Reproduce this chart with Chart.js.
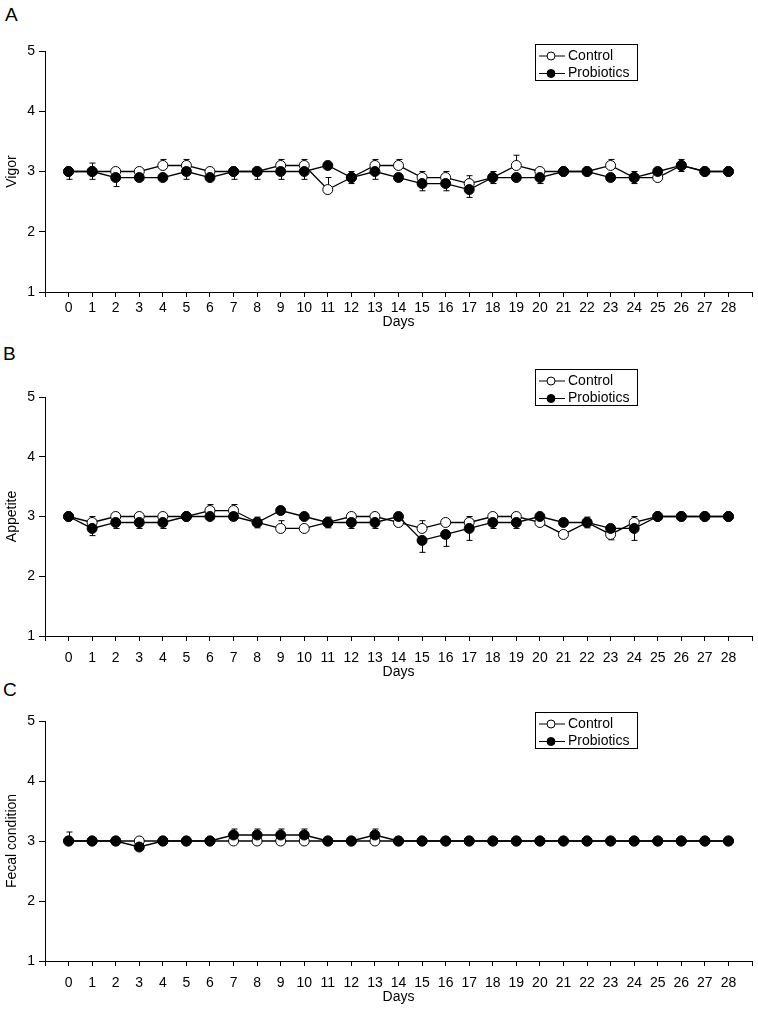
<!DOCTYPE html>
<html><head><meta charset="utf-8">
<script src="https://cdn.jsdelivr.net/npm/chart.js@4.4.1/dist/chart.umd.min.js"></script>
<style>
html,body{margin:0;padding:0;background:#fff;width:758px;height:1011px;overflow:hidden;position:relative;font-family:"Liberation Sans",Arial,sans-serif}
canvas{position:absolute;left:0}
.lbl{position:absolute;font-size:19px;line-height:19px;color:#000}
</style></head><body>
<div class="lbl" style="left:5px;top:5px">A</div>
<div class="lbl" style="left:3px;top:344px">B</div>
<div class="lbl" style="left:3px;top:680px">C</div>
<canvas id="cA"></canvas>
<canvas id="cB"></canvas>
<canvas id="cC"></canvas>
<script>
const days = [0,1,2,3,4,5,6,7,8,9,10,11,12,13,14,15,16,17,18,19,20,21,22,23,24,25,26,27,28];
const dayLabels = ['0','1','2','3','4','5','6','7','8','9','10','11','12','13','14','15','16','17','18','19','20','21','22','23','24','25','26','27','28'];
const seriesNames = ['Control','Probiotics'];
const yTitles = ['Vigor','Appetite','Fecal condition'];

// mean scores
const vigorControl     = [3,3,3,3,3.1,3.1,3,3,3,3.1,3.1,2.7,2.9,3.1,3.1,2.9,2.9,2.8,2.9,3.1,3,3,3,3.1,2.9,2.9,3.1,3,3];
const vigorProbiotics  = [3,3,2.9,2.9,2.9,3,2.9,3,3,3,3,3.1,2.9,3,2.9,2.8,2.8,2.7,2.9,2.9,2.9,3,3,2.9,2.9,3,3.1,3,3];
const appetiteControl    = [3,2.9,3,3,3,3,3.1,3.1,2.9,2.8,2.8,2.9,3,3,2.9,2.8,2.9,2.9,3,3,2.9,2.7,2.9,2.7,2.9,3,3,3,3];
const appetiteProbiotics = [3,2.8,2.9,2.9,2.9,3,3,3,2.9,3.1,3,2.9,2.9,2.9,3,2.6,2.7,2.8,2.9,2.9,3,2.9,2.9,2.8,2.8,3,3,3,3];
const fecalControl    = [3,3,3,3,3,3,3,3,3,3,3,3,3,3,3,3,3,3,3,3,3,3,3,3,3,3,3,3,3];
const fecalProbiotics = [3,3,3,2.9,3,3,3,3.1,3.1,3.1,3.1,3,3,3.1,3,3,3,3,3,3,3,3,3,3,3,3,3,3,3];

// standard errors (Control drawn upward, Probiotics drawn downward)
const vigorControlErr    = [0,0.14,0,0,0.1,0.1,0,0,0,0.1,0.1,0.2,0.1,0.1,0.1,0.1,0.1,0.13,0.1,0.17,0,0,0,0.1,0.1,0,0.1,0,0];
const vigorProbioticsErr = [0.13,0.13,0.15,0,0,0.13,0,0.13,0.13,0.13,0.13,0,0.1,0.13,0,0.12,0.12,0.13,0.1,0,0.1,0,0,0,0.1,0,0.1,0,0];
const appetiteControlErr    = [0,0.1,0,0,0,0,0.1,0.1,0.09,0.13,0,0.09,0,0,0,0.13,0,0.1,0,0,0,0,0.09,0,0.1,0,0,0,0];
const appetiteProbioticsErr = [0,0.12,0.1,0.1,0.1,0,0,0,0.09,0,0,0.09,0.1,0.1,0,0.2,0.2,0.2,0.1,0.1,0,0,0.09,0.19,0.2,0,0,0,0];
const fecalControlErr    = [0.15,0,0,0,0,0,0,0.2,0.2,0.2,0.2,0,0,0.2,0,0,0,0,0,0,0,0,0,0,0,0,0,0,0];
const fecalProbioticsErr = [0,0,0,0,0,0,0,0,0,0,0,0,0,0,0,0,0,0,0,0,0,0,0,0,0,0,0,0,0];

const FONT = '"Liberation Sans", Arial, sans-serif';

const errorBars = {
  id: 'errorBars',
  beforeDatasetsDraw(chart) {
    const {ctx} = chart; const xs = chart.scales.x, ys = chart.scales.y;
    ctx.save(); ctx.strokeStyle = '#000'; ctx.lineWidth = 1;
    chart.data.datasets.forEach(ds => {
      ds.data.forEach((pt, i) => {
        const e = ds.err[i]; if (!e) return;
        const px = Math.round(xs.getPixelForValue(pt.x)) + 0.5;
        const y0 = ys.getPixelForValue(pt.y), y1 = ys.getPixelForValue(pt.y + ds.errDir * e);
        ctx.beginPath();
        ctx.moveTo(px, y0); ctx.lineTo(px, y1);
        ctx.moveTo(px - 3, y1); ctx.lineTo(px + 3, y1);
        ctx.stroke();
      });
    });
    ctx.restore();
  }
};

const boxLegend = {
  id: 'boxLegend',
  afterDraw(chart, args, opts) {
    const ctx = chart.ctx; const x = opts.x, y = opts.y, w = 102, h = 36;
    ctx.save();
    ctx.strokeStyle = '#000'; ctx.lineWidth = 1;
    ctx.strokeRect(x + 0.5, y + 0.5, w, h);
    chart.data.datasets.forEach((d, i) => {
      const cy = y + 12 + i * 17.5;
      ctx.beginPath(); ctx.moveTo(x + 4, cy); ctx.lineTo(x + 30, cy); ctx.stroke();
      ctx.beginPath(); ctx.arc(x + 16, cy, 4, 0, Math.PI * 2);
      ctx.fillStyle = d.pointBackgroundColor; ctx.fill(); ctx.stroke();
      ctx.fillStyle = '#000'; ctx.font = '14px ' + FONT; ctx.textBaseline = 'middle';
      ctx.fillText(d.label, x + 33, cy);
    });
    ctx.restore();
  }
};

const panels = [
  {id:'cA', title:yTitles[0], control:vigorControl, prob:vigorProbiotics, cErr:vigorControlErr, pErr:vigorProbioticsErr, plotTop:51, plotBottom:292, legendY:44, tickPad:3, titlePad:6},
  {id:'cB', title:yTitles[1], control:appetiteControl, prob:appetiteProbiotics, cErr:appetiteControlErr, pErr:appetiteProbioticsErr, plotTop:397, plotBottom:636, legendY:369, tickPad:9, titlePad:0},
  {id:'cC', title:yTitles[2], control:fecalControl, prob:fecalProbiotics, cErr:fecalControlErr, pErr:fecalProbioticsErr, plotTop:721, plotBottom:961, legendY:712, tickPad:9, titlePad:0}
];

function makeChart(p) {
  const canvasTop = p.plotTop - 51;
  const height = p.plotBottom + 45 - canvasTop;
  const cv = document.getElementById(p.id);
  cv.style.top = canvasTop + 'px';
  cv.width = 758; cv.height = height;
  cv.style.width = '758px'; cv.style.height = height + 'px';
  const mk = (vals) => days.map((d, i) => ({x: d, y: vals[i]}));
  const common = {borderColor:'#000', borderWidth:1.3, pointRadius:5, pointHoverRadius:5, pointBorderColor:'#000', pointBorderWidth:1, fill:false, tension:0};
  new Chart(cv.getContext('2d'), {
    type: 'line',
    data: {datasets: [
      Object.assign({label: seriesNames[0], data: mk(p.control), err: p.cErr, errDir: 1, order: 1, pointBackgroundColor: '#fff'}, common),
      Object.assign({label: seriesNames[1], data: mk(p.prob), err: p.pErr, errDir: -1, order: 0, pointBackgroundColor: '#000'}, common)
    ]},
    options: {
      responsive: false, animation: false, events: [],
      layout: {padding: {top: 51, right: 2, left: 0, bottom: 0}},
      plugins: {legend: {display: false}, tooltip: {enabled: false}, boxLegend: {x: 535, y: p.legendY - canvasTop}},
      scales: {
        x: {
          type: 'linear', min: -1, max: 29,
          ticks: {stepSize: 1, autoSkip: false, maxRotation: 0, color: '#000', font: {size: 14, family: FONT}, padding: p.tickPad,
            callback: (v) => { const i = days.indexOf(v); return i >= 0 ? dayLabels[i] : ''; }},
          grid: {drawOnChartArea: false, drawTicks: true, tickLength: 5, color: '#000', lineWidth: 1},
          border: {display: true, color: '#000', width: 1},
          title: {display: true, text: 'Days', color: '#000', font: {size: 14, family: FONT}, padding: {top: 0, bottom: p.titlePad}},
          afterFit: (s) => { s.height = 45; s.paddingLeft = 0; s.paddingRight = 0; }
        },
        y: {
          min: 1, max: 5,
          ticks: {stepSize: 1, color: '#000', font: {size: 14, family: FONT}, padding: 4},
          grid: {drawOnChartArea: false, drawTicks: true, tickLength: 6, color: '#000', lineWidth: 1},
          border: {display: true, color: '#000', width: 1},
          title: {display: true, text: p.title, color: '#000', font: {size: 14, family: FONT}, padding: {top: 4, bottom: 0}},
          afterFit: (s) => { s.width = 45; }
        }
      }
    },
    plugins: [errorBars, boxLegend]
  });
}
panels.forEach(makeChart);
</script>
</body></html>
